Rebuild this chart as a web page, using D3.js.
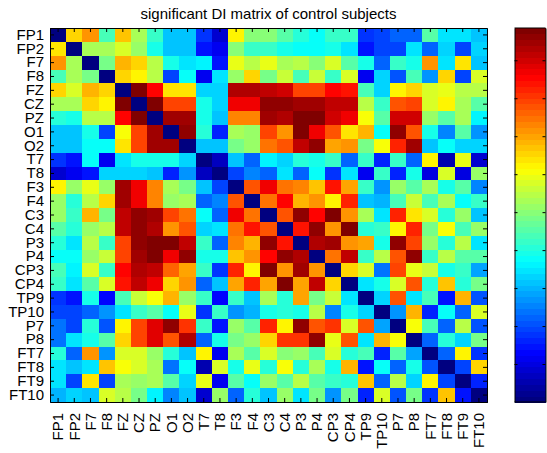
<!doctype html>
<html lang="en">
<head>
    <meta charset="utf-8"/>
    <title>significant DI matrix of control subjects</title>
    <style>
        body { margin: 0; background: #fff; }
        text { font-family: "Liberation Sans", Arial, sans-serif; fill: #000; }
        .axis path, .axis line { stroke: #000; }
        .cell { shape-rendering: crispEdges; }
    </style>
    <script src="https://d3js.org/d3.v7.min.js"></script>
</head>
<body>
<svg width="547" height="453"></svg>
<script>

    var channels = ["FP1", "FP2", "F7", "F8", "FZ", "CZ", "PZ", "O1", "O2", "T7", "T8",
                    "F3", "F4", "C3", "C4", "P3", "P4", "CP3", "CP4", "TP9", "TP10",
                    "P7", "P8", "FT7", "FT8", "FT9", "FT10"];

    // one row per source channel, columns in the same channel order
    var diRows = [
        [0, 0.65, 0.72, 0.44, 0.67, 0.53, 0.43, 0.31, 0.31, 0.17, 0.09, 0.625, 0.5, 0.5, 0.46, 0.41, 0.375, 0.43, 0.43, 0.17, 0.19, 0.23, 0.23, 0.46, 0.35, 0.34, 0.31],
        [0.64, 0, 0.53, 0.53, 0.57, 0.52, 0.40, 0.31, 0.31, 0.15, 0.12, 0.5, 0.42, 0.43, 0.40, 0.375, 0.375, 0.40, 0.35, 0.15, 0.19, 0.19, 0.34, 0.22, 0.33, 0.19, 0.33],
        [0.72, 0.53, 0, 0.48, 0.69, 0.66, 0.55, 0.40, 0.35, 0.36, 0.15, 0.6, 0.55, 0.59, 0.53, 0.55, 0.5, 0.58, 0.46, 0.40, 0.22, 0.43, 0.40, 0.72, 0.34, 0.64, 0.31],
        [0.44, 0.53, 0.48, 0, 0.65, 0.625, 0.55, 0.2, 0.375, 0.12, 0.34, 0.51, 0.65, 0.48, 0.56, 0.44, 0.56, 0.43, 0.58, 0.12, 0.33, 0.21, 0.44, 0.27, 0.66, 0.19, 0.58],
        [0.66, 0.57, 0.69, 0.65, 0, 0.98, 0.86, 0.64, 0.64, 0.33, 0.33, 0.93, 0.93, 0.91, 0.9, 0.8, 0.8, 0.86, 0.84, 0.44, 0.33, 0.625, 0.66, 0.58, 0.6, 0.55, 0.55],
        [0.53, 0.53, 0.66, 0.625, 0.98, 0, 1.0, 0.8, 0.8, 0.40, 0.33, 0.875, 0.875, 0.96, 0.96, 0.94, 0.94, 0.91, 0.91, 0.55, 0.43, 0.78, 0.8, 0.57, 0.625, 0.53, 0.46],
        [0.41, 0.4, 0.55, 0.55, 0.86, 1.0, 0, 0.95, 0.95, 0.40, 0.31, 0.73, 0.73, 0.94, 0.93, 1.0, 1.0, 0.9, 0.875, 0.61, 0.46, 0.9, 0.9, 0.51, 0.46, 0.53, 0.36],
        [0.31, 0.31, 0.4, 0.19, 0.61, 0.8, 0.95, 0, 0.96, 0.41, 0.16, 0.53, 0.51, 0.8, 0.72, 0.98, 0.875, 0.77, 0.64, 0.68, 0.375, 0.96, 0.78, 0.4, 0.25, 0.46, 0.27],
        [0.31, 0.31, 0.375, 0.375, 0.64, 0.8, 0.95, 0.95, 0, 0.32, 0.32, 0.48, 0.51, 0.75, 0.78, 0.92, 0.96, 0.7, 0.72, 0.48, 0.61, 0.82, 0.94, 0.31, 0.375, 0.33, 0.33],
        [0.17, 0.14, 0.375, 0.12, 0.34, 0.4, 0.4, 0.4, 0.33, 0, 0.07, 0.31, 0.22, 0.36, 0.33, 0.41, 0.39, 0.43, 0.23, 0.43, 0.16, 0.43, 0.22, 0.625, 0.06, 0.59, 0.08],
        [0.08, 0.12, 0.14, 0.33, 0.33, 0.33, 0.31, 0.16, 0.27, 0.07, 0, 0.19, 0.25, 0.23, 0.34, 0.23, 0.375, 0.17, 0.35, 0.12, 0.43, 0.16, 0.4, 0.1, 0.58, 0.1, 0.51],
        [0.625, 0.51, 0.6, 0.51, 0.94, 0.875, 0.73, 0.53, 0.48, 0.31, 0.19, 0, 0.78, 0.875, 0.75, 0.73, 0.67, 0.84, 0.7, 0.43, 0.27, 0.51, 0.46, 0.53, 0.39, 0.46, 0.25],
        [0.51, 0.41, 0.55, 0.65, 0.94, 0.875, 0.73, 0.51, 0.53, 0.22, 0.25, 0.78, 0, 0.75, 0.86, 0.69, 0.71, 0.625, 0.83, 0.32, 0.3, 0.44, 0.56, 0.44, 0.53, 0.375, 0.43],
        [0.51, 0.43, 0.69, 0.48, 0.92, 0.96, 0.95, 0.8, 0.74, 0.37, 0.23, 0.875, 0.75, 0, 0.78, 0.96, 0.86, 1.0, 0.71, 0.53, 0.34, 0.83, 0.64, 0.57, 0.41, 0.51, 0.32],
        [0.46, 0.41, 0.51, 0.55, 0.91, 0.96, 0.93, 0.72, 0.78, 0.33, 0.35, 0.75, 0.84, 0.78, 0, 0.84, 0.96, 0.71, 1.0, 0.41, 0.43, 0.625, 0.83, 0.48, 0.61, 0.44, 0.51],
        [0.41, 0.35, 0.55, 0.43, 0.8, 0.96, 1.0, 0.98, 0.92, 0.43, 0.23, 0.73, 0.69, 0.96, 0.84, 0, 0.93, 0.94, 0.71, 0.7, 0.39, 0.96, 0.8, 0.51, 0.41, 0.55, 0.35],
        [0.375, 0.375, 0.51, 0.56, 0.8, 0.95, 1.0, 0.875, 0.96, 0.39, 0.4, 0.67, 0.71, 0.86, 0.96, 0.93, 0, 0.74, 0.91, 0.43, 0.55, 0.78, 0.96, 0.43, 0.55, 0.46, 0.46],
        [0.44, 0.36, 0.58, 0.43, 0.86, 0.93, 0.91, 0.76, 0.7, 0.43, 0.17, 0.83, 0.625, 1.0, 0.72, 0.95, 0.72, 0, 0.65, 0.57, 0.24, 0.8, 0.6, 0.56, 0.39, 0.43, 0.28],
        [0.43, 0.35, 0.46, 0.58, 0.84, 0.92, 0.875, 0.66, 0.72, 0.23, 0.31, 0.7, 0.82, 0.7, 1.0, 0.7, 0.91, 0.65, 0, 0.34, 0.4, 0.58, 0.78, 0.41, 0.67, 0.41, 0.48],
        [0.17, 0.14, 0.39, 0.13, 0.44, 0.56, 0.61, 0.68, 0.51, 0.43, 0.13, 0.43, 0.32, 0.53, 0.41, 0.7, 0.48, 0.56, 0.34, 0, 0.33, 0.78, 0.35, 0.44, 0.14, 0.68, 0.21],
        [0.19, 0.19, 0.22, 0.27, 0.34, 0.43, 0.46, 0.375, 0.6, 0.17, 0.43, 0.27, 0.3, 0.39, 0.41, 0.39, 0.55, 0.25, 0.39, 0.33, 0, 0.27, 0.69, 0.16, 0.375, 0.23, 0.58],
        [0.24, 0.19, 0.41, 0.21, 0.625, 0.8, 0.89, 0.96, 0.81, 0.43, 0.15, 0.51, 0.46, 0.83, 0.625, 0.96, 0.78, 0.81, 0.58, 0.78, 0.28, 0, 0.61, 0.44, 0.22, 0.55, 0.21],
        [0.24, 0.34, 0.4, 0.46, 0.66, 0.8, 0.89, 0.78, 0.93, 0.23, 0.4, 0.48, 0.51, 0.65, 0.81, 0.81, 0.96, 0.59, 0.78, 0.35, 0.69, 0.61, 0, 0.23, 0.41, 0.33, 0.48],
        [0.41, 0.22, 0.72, 0.27, 0.58, 0.58, 0.51, 0.41, 0.31, 0.625, 0.12, 0.53, 0.46, 0.57, 0.5, 0.51, 0.44, 0.57, 0.41, 0.44, 0.16, 0.46, 0.28, 0, 0.22, 0.625, 0.17],
        [0.35, 0.32, 0.35, 0.67, 0.61, 0.57, 0.53, 0.24, 0.375, 0.06, 0.58, 0.39, 0.6, 0.41, 0.61, 0.41, 0.53, 0.39, 0.68, 0.14, 0.375, 0.22, 0.4, 0.21, 0, 0.19, 0.65],
        [0.34, 0.19, 0.64, 0.19, 0.53, 0.51, 0.53, 0.46, 0.33, 0.59, 0.12, 0.46, 0.375, 0.51, 0.46, 0.55, 0.46, 0.43, 0.41, 0.67, 0.23, 0.55, 0.33, 0.625, 0.19, 0, 0.16],
        [0.3, 0.33, 0.32, 0.58, 0.55, 0.48, 0.36, 0.25, 0.32, 0.08, 0.51, 0.22, 0.41, 0.31, 0.51, 0.34, 0.48, 0.27, 0.48, 0.16, 0.58, 0.21, 0.48, 0.17, 0.67, 0.15, 0]
    ];

    var cbarTicks = [0.1, 0.2, 0.3, 0.4, 0.5, 0.6, 0.7, 0.8, 0.9];
    var vmax = 0.985;
    var nLevels = 64;

    var svg = d3.select("svg"),
        pLeft = 50, pTop = 28, pRight = 487, pBottom = 402,
        cbLeft = 514.5, cbRight = 545.5;

    // matlab style jet, 64 steps
    function jet(t) {
        var k = Math.min(nLevels - 1, Math.max(0, Math.floor(t * nLevels))) / (nLevels - 1);
        function c(v) { return Math.round(255 * Math.max(0, Math.min(1, v))); }
        return "rgb(" + c(1.5 - Math.abs(4 * k - 3)) + "," +
                        c(1.5 - Math.abs(4 * k - 2)) + "," +
                        c(1.5 - Math.abs(4 * k - 1)) + ")";
    }

    var color = d3.scaleSequential(jet).domain([0, vmax]);

    var x = d3.scaleBand().domain(channels).range([pLeft, pRight]),
        y = d3.scaleBand().domain(channels).range([pTop, pBottom]);

    var cells = [];
    diRows.forEach(function(row, i) {
        row.forEach(function(v, j) {
            cells.push({ from: channels[i], to: channels[j], v: v });
        });
    });

    svg.append("g")
       .selectAll(".cell")
       .data(cells)
       .enter().append("rect")
       .attr("class", "cell")
       .attr("x", function(d) { return x(d.to); })
       .attr("y", function(d) { return y(d.from); })
       .attr("width", x.bandwidth() + 0.5)
       .attr("height", y.bandwidth() + 0.5)
       .attr("fill", function(d) { return color(d.v); });

    svg.append("text")
       .attr("x", (pLeft + pRight) / 2)
       .attr("y", 19)
       .attr("text-anchor", "middle")
       .attr("font-size", "15px")
       .text("significant DI matrix of control subjects");

    // axes, ticks pointing inwards like matlab
    svg.append("g")
       .attr("class", "axis")
       .attr("transform", "translate(" + pLeft + ",0)")
       .call(d3.axisLeft(y).tickSizeInner(-4).tickSizeOuter(0).tickPadding(6))
       .selectAll("text")
       .attr("font-size", "15px");

    svg.append("g")
       .attr("class", "axis")
       .attr("transform", "translate(" + pRight + ",0)")
       .call(d3.axisRight(y).tickSizeInner(-4).tickSizeOuter(0).tickFormat(""));

    svg.append("g")
       .attr("class", "axis")
       .attr("transform", "translate(0," + pTop + ")")
       .call(d3.axisTop(x).tickSizeInner(-4).tickSizeOuter(0).tickFormat(""));

    var xAxis = svg.append("g")
       .attr("class", "axis")
       .attr("transform", "translate(0," + pBottom + ")")
       .call(d3.axisBottom(x).tickSizeInner(-4).tickSizeOuter(0));

    xAxis.selectAll("text")
       .attr("font-size", "15px")
       .attr("transform", "rotate(-90)")
       .attr("text-anchor", "end")
       .attr("x", -11)
       .attr("y", 0)
       .attr("dy", "0.35em");

    svg.selectAll(".axis text").attr("fill", "#000").style("font-family", "'Liberation Sans', Arial, sans-serif");

    // colorbar
    var cy = d3.scaleLinear().domain([0, vmax]).range([pBottom, pTop]);
    var levels = d3.range(nLevels);

    svg.append("g")
       .selectAll("rect")
       .data(levels)
       .enter().append("rect")
       .attr("class", "cell")
       .attr("x", cbLeft)
       .attr("width", cbRight - cbLeft)
       .attr("y", function(i) { return cy((i + 1) * vmax / nLevels); })
       .attr("height", function(i) { return cy(i * vmax / nLevels) - cy((i + 1) * vmax / nLevels) + 0.5; })
       .attr("fill", function(i) { return color((i + 0.5) * vmax / nLevels); });

    svg.append("g")
       .attr("class", "axis")
       .attr("transform", "translate(" + cbLeft + ",0)")
       .call(d3.axisLeft(cy).tickValues(cbarTicks).tickSizeInner(-3).tickSizeOuter(0).tickFormat(""));

    svg.append("g")
       .attr("class", "axis")
       .attr("transform", "translate(" + cbRight + ",0)")
       .call(d3.axisRight(cy).tickValues(cbarTicks).tickSizeInner(-3).tickSizeOuter(0).tickFormat(""));

    svg.append("line")
       .attr("x1", cbLeft).attr("x2", cbRight).attr("y1", pTop).attr("y2", pTop)
       .attr("stroke", "#000");
    svg.append("line")
       .attr("x1", cbLeft).attr("x2", cbRight).attr("y1", pBottom).attr("y2", pBottom)
       .attr("stroke", "#000");

</script>
</body>
</html>
